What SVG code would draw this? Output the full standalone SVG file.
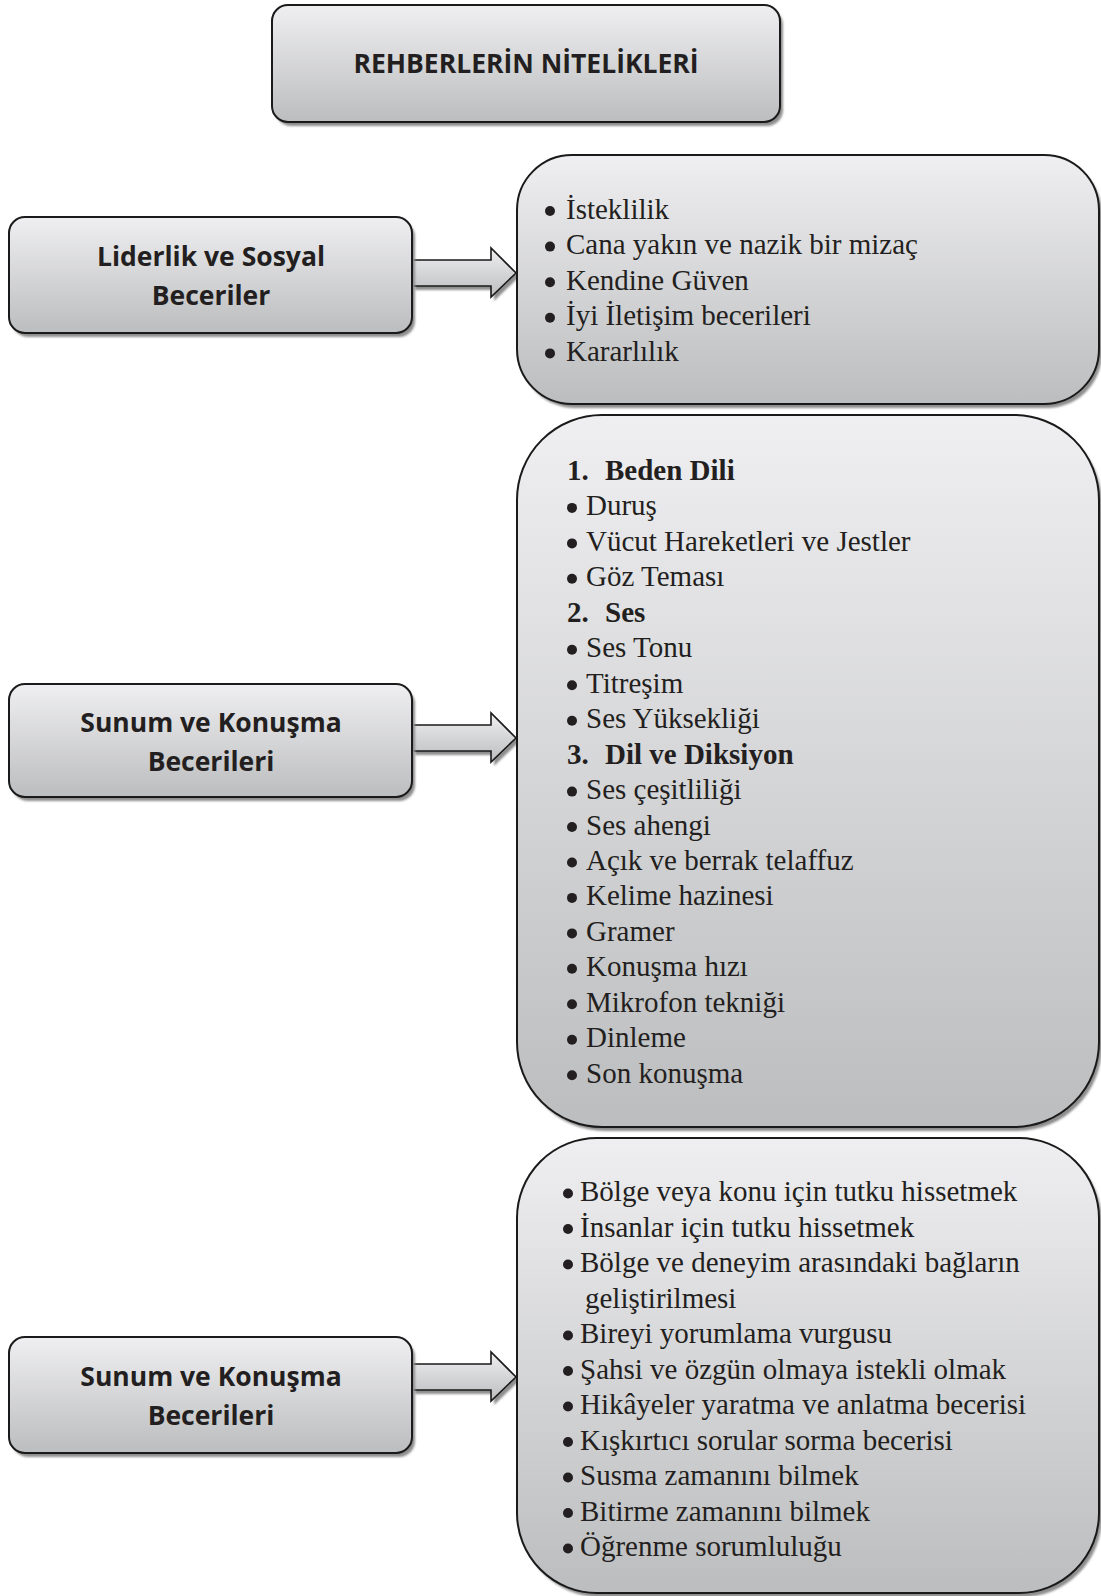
<svg xmlns="http://www.w3.org/2000/svg" width="1101" height="1596" viewBox="0 0 1101 1596">
<defs>
<linearGradient id="g" x1="0" y1="0" x2="0" y2="1">
<stop offset="0" stop-color="#efeff1"/>
<stop offset="1" stop-color="#bcbdbf"/>
</linearGradient>
<filter id="blur" x="-5%" y="-5%" width="110%" height="110%">
<feGaussianBlur stdDeviation="1.2"/>
</filter>
</defs>
<style>
.box{fill:url(#g);stroke:#1a1a1a;stroke-width:2}
.sh{fill:#8e8e8e;filter:url(#blur)}
.arr{fill:url(#g);stroke:#1a1a1a;stroke-width:1.6;stroke-linejoin:miter}
.hd{font-family:"Open Sans","DejaVu Sans",sans-serif;font-weight:bold;fill:#231f20;text-anchor:middle}
.lb{font-size:26.5px}
.it{font-family:"Liberation Serif","Times New Roman",serif;font-size:29px;fill:#231f20}
.b{font-weight:bold}
.dot{fill:#231f20}
</style>

<g id="connectors">
<g id="arrow1">
<path class="sh" d="M415,264 H494 V252 L519,277 L494,301 V290 H415 Z"/>
<path class="arr" d="M412,260 H491 V248 L516,273 L491,297 V286 H412"/>
</g>
<g id="arrow2">
<path class="sh" d="M415,729 H494 V717 L519,742 L494,766 V755 H415 Z"/>
<path class="arr" d="M412,725 H491 V713 L516,738 L491,762 V751 H412"/>
</g>
<g id="arrow3">
<path class="sh" d="M415,1368 H494 V1356 L519,1381 L494,1405 V1394 H415 Z"/>
<path class="arr" d="M412,1364 H491 V1352 L516,1377 L491,1401 V1390 H412"/>
</g>
</g>

<g id="title">
<rect class="sh" x="275" y="9" width="508" height="117" rx="16"/>
<rect class="box" x="272" y="5" width="508" height="117" rx="16"/>
<text class="hd" x="526" y="73" font-size="26.5">REHBERLERİN NİTELİKLERİ</text>
</g>

<g id="left1">
<rect class="sh" x="12" y="221" width="403" height="116" rx="16"/>
<rect class="box" x="9" y="217" width="403" height="116" rx="16"/>
<text class="hd lb" x="211" y="266">Liderlik ve Sosyal</text>
<text class="hd lb" x="211" y="305">Beceriler</text>
</g>

<g id="left2">
<rect class="sh" x="12" y="688" width="403" height="113" rx="16"/>
<rect class="box" x="9" y="684" width="403" height="113" rx="16"/>
<text class="hd lb" x="211" y="731.5">Sunum ve Konuşma</text>
<text class="hd lb" x="211" y="770.5">Becerileri</text>
</g>

<g id="left3">
<rect class="sh" x="12" y="1341" width="403" height="116" rx="16"/>
<rect class="box" x="9" y="1337" width="403" height="116" rx="16"/>
<text class="hd lb" x="211" y="1386">Sunum ve Konuşma</text>
<text class="hd lb" x="211" y="1425">Becerileri</text>
</g>

<g id="right1">
<rect class="sh" x="520" y="159" width="582" height="249" rx="55"/>
<rect class="box" x="517" y="155" width="582" height="249" rx="55"/>
<circle class="dot" cx="550" cy="211" r="5"/>
<circle class="dot" cx="550" cy="246.6" r="5"/>
<circle class="dot" cx="550" cy="282.2" r="5"/>
<circle class="dot" cx="550" cy="317.8" r="5"/>
<circle class="dot" cx="550" cy="353.4" r="5"/>
<text class="it" x="566" y="218.5">İsteklilik</text>
<text class="it" x="566" y="254.1">Cana yakın ve nazik bir mizaç</text>
<text class="it" x="566" y="289.7">Kendine Güven</text>
<text class="it" x="566" y="325.3">İyi İletişim becerileri</text>
<text class="it" x="566" y="360.9">Kararlılık</text>
</g>

<g id="right2">
<rect class="sh" x="520" y="419" width="582" height="712" rx="85"/>
<rect class="box" x="517" y="415" width="582" height="712" rx="85"/>
<text class="it b" x="567" y="480">1.</text><text class="it b" x="605" y="480">Beden Dili</text>
<circle class="dot" cx="572" cy="507.9" r="5"/>
<text class="it" x="586" y="515.4">Duruş</text>
<circle class="dot" cx="572" cy="543.4" r="5"/>
<text class="it" x="586" y="550.9">Vücut Hareketleri ve Jestler</text>
<circle class="dot" cx="572" cy="578.8" r="5"/>
<text class="it" x="586" y="586.3">Göz Teması</text>
<text class="it b" x="567" y="621.8">2.</text><text class="it b" x="605" y="621.8">Ses</text>
<circle class="dot" cx="572" cy="649.8" r="5"/>
<text class="it" x="586" y="657.3">Ses Tonu</text>
<circle class="dot" cx="572" cy="685.2" r="5"/>
<text class="it" x="586" y="692.7">Titreşim</text>
<circle class="dot" cx="572" cy="720.7" r="5"/>
<text class="it" x="586" y="728.2">Ses Yüksekliği</text>
<text class="it b" x="567" y="763.6">3.</text><text class="it b" x="605" y="763.6">Dil ve Diksiyon</text>
<circle class="dot" cx="572" cy="791.6" r="5"/>
<text class="it" x="586" y="799.1">Ses çeşitliliği</text>
<circle class="dot" cx="572" cy="827" r="5"/>
<text class="it" x="586" y="834.5">Ses ahengi</text>
<circle class="dot" cx="572" cy="862.5" r="5"/>
<text class="it" x="586" y="870">Açık ve berrak telaffuz</text>
<circle class="dot" cx="572" cy="897.9" r="5"/>
<text class="it" x="586" y="905.4">Kelime hazinesi</text>
<circle class="dot" cx="572" cy="933.4" r="5"/>
<text class="it" x="586" y="940.9">Gramer</text>
<circle class="dot" cx="572" cy="968.8" r="5"/>
<text class="it" x="586" y="976.3">Konuşma hızı</text>
<circle class="dot" cx="572" cy="1004.3" r="5"/>
<text class="it" x="586" y="1011.8">Mikrofon tekniği</text>
<circle class="dot" cx="572" cy="1039.7" r="5"/>
<text class="it" x="586" y="1047.2">Dinleme</text>
<circle class="dot" cx="572" cy="1075.2" r="5"/>
<text class="it" x="586" y="1082.7">Son konuşma</text>
</g>

<g id="right3">
<rect class="sh" x="520" y="1142" width="582" height="455" rx="80"/>
<rect class="box" x="517" y="1138" width="582" height="455" rx="80"/>
<circle class="dot" cx="568" cy="1193.5" r="5"/>
<text class="it" x="580" y="1201">Bölge veya konu için tutku hissetmek</text>
<circle class="dot" cx="568" cy="1229" r="5"/>
<text class="it" x="580" y="1236.5">İnsanlar için tutku hissetmek</text>
<circle class="dot" cx="568" cy="1264.5" r="5"/>
<text class="it" x="580" y="1272">Bölge ve deneyim arasındaki bağların</text>
<text class="it" x="585" y="1307.5">geliştirilmesi</text>
<circle class="dot" cx="568" cy="1335.5" r="5"/>
<text class="it" x="580" y="1343">Bireyi yorumlama vurgusu</text>
<circle class="dot" cx="568" cy="1371" r="5"/>
<text class="it" x="580" y="1378.5">Şahsi ve özgün olmaya istekli olmak</text>
<circle class="dot" cx="568" cy="1406.5" r="5"/>
<text class="it" x="580" y="1414">Hikâyeler yaratma ve anlatma becerisi</text>
<circle class="dot" cx="568" cy="1442" r="5"/>
<text class="it" x="580" y="1449.5">Kışkırtıcı sorular sorma becerisi</text>
<circle class="dot" cx="568" cy="1477.5" r="5"/>
<text class="it" x="580" y="1485">Susma zamanını bilmek</text>
<circle class="dot" cx="568" cy="1513" r="5"/>
<text class="it" x="580" y="1520.5">Bitirme zamanını bilmek</text>
<circle class="dot" cx="568" cy="1548.5" r="5"/>
<text class="it" x="580" y="1556">Öğrenme sorumluluğu</text>
</g>
</svg>
